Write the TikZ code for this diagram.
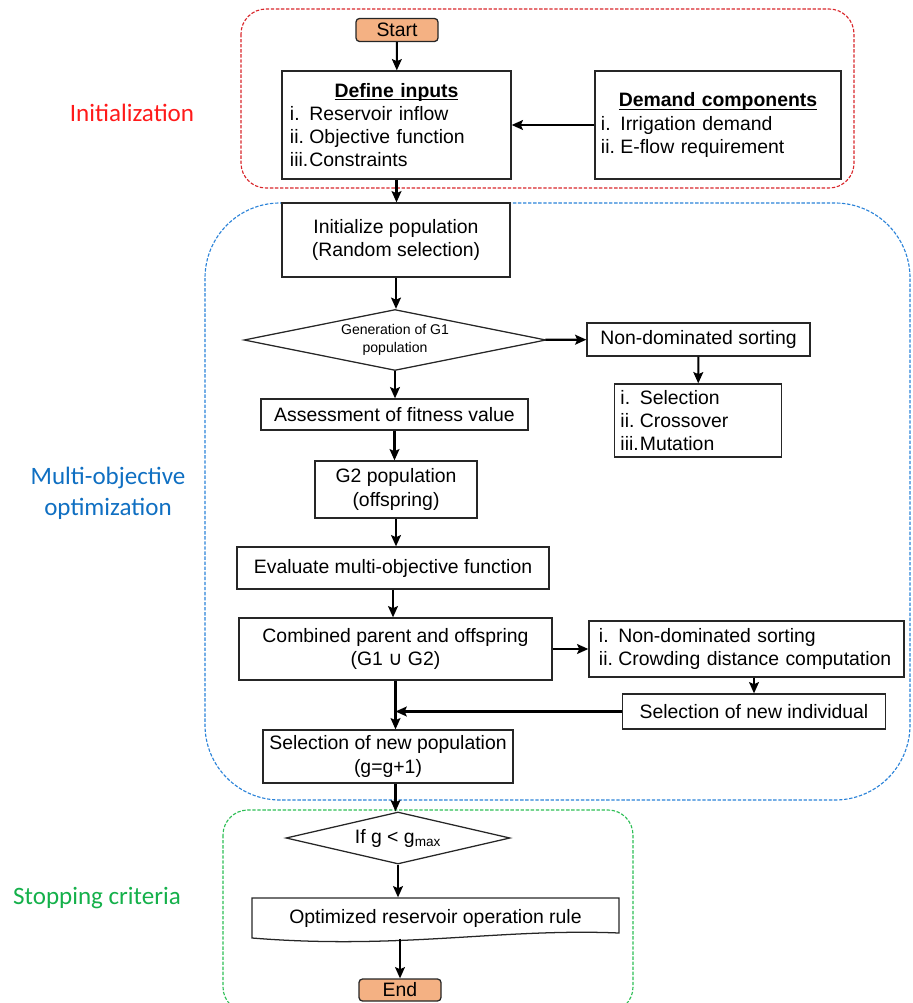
\documentclass[tikz,border=0pt]{standalone}
\usepackage{fontspec}
\setmainfont{Liberation Sans}
\newfontfamily\calib{Carlito}
\newfontfamily\symfnt{DejaVu Sans}
\usetikzlibrary{shapes.geometric,arrows.meta}
\newcommand\px{0.025cm}
\newcommand\itm[1]{\makebox[1.0em][l]{#1}}
\newcommand\hdr[1]{\setbox0\hbox{\textbf{#1}}\rlap{\rule[-2.2pt]{\wd0}{0.7pt}}\box0}
\definecolor{peach}{HTML}{F4B183}
\definecolor{initred}{HTML}{FF1A1A}
\definecolor{initline}{HTML}{D9262B}
\definecolor{optblue}{HTML}{0F6FC2}
\definecolor{optline}{HTML}{2A82D8}
\definecolor{stopgreen}{HTML}{14B04A}
\definecolor{stopline}{HTML}{2DBE55}
\tikzset{
  outline/.style={draw=black!85, line width=0.9pt},
  box/.style={outline, inner sep=0pt, font=\fontsize{13.8}{16.5}\selectfont, align=center},
  listbox/.style={box, align=left, inner xsep=6*\px},
  term/.style={box, fill=peach, rounded corners=2.5pt},
  dec/.style={box, diamond, aspect=5},
  arr/.style={line width=1.5pt, -{Stealth[length=8pt,width=7pt,inset=1.5pt]}},
  zone/.style={dash pattern=on 2.4pt off 1.2pt, line width=0.8pt},
  lab/.style={font=\calib\fontsize{17.8}{22}\selectfont, align=center}
}
\begin{document}
\begin{tikzpicture}[x=\px,y=-\px]
\useasboundingbox (0,0) rectangle (912,1003);
\clip (0,0) rectangle (912,1003);

% zones
\draw[zone, initline, rounded corners=0.625cm] (241,9) rectangle (854,188);
\draw[zone, optline, rounded corners=1.875cm] (205,203) rectangle (910,800);
\draw[zone, stopline, rounded corners=0.625cm] (223,810) rectangle (633,1012);

\node[lab, text=initred] (initlab) at (132,113) {Initialization};
\node[lab, text=optblue] (optlab) at (108,493) {Multi-objective\\optimization};
\node[lab, text=stopgreen] (stoplab) at (97,898) {Stopping criteria};

% initialization
\node[term, minimum width=82*\px, minimum height=23*\px] (start) at (397,30) {Start};
\node[listbox, text width=5.325cm, inner xsep=8*\px, minimum height=108*\px] (inputs) at (396.5,125)
  {\centering\hdr{Define inputs}\par\raggedright
   \itm{i.}Reservoir inflow\\\itm{ii.}Objective function\\\itm{iii.}Constraints};
\node[listbox, text width=5.85cm, minimum height=108*\px] (demand) at (718,125)
  {\centering\hdr{Demand components}\par\raggedright
   \itm{i.}Irrigation demand\\\itm{ii.}E-flow requirement};

% optimization
\node[box, minimum width=228*\px, minimum height=74*\px] (initpop) at (396,240) {Initialize population\\(Random selection)};
\node[dec, minimum width=302*\px, minimum height=61*\px, font=\fontsize{10}{12.8}\selectfont] (gen) at (395,340) {Generation of G1\\population};
\node[box, minimum width=223*\px, minimum height=33*\px] (sorting) at (698.5,339.5) {Non-dominated sorting};
\node[listbox, text width=3.875cm, minimum height=73*\px] (operators) at (698,420.5)
  {\itm{i.}Selection\\\itm{ii.}Crossover\\\itm{iii.}Mutation};
\node[box, minimum width=267*\px, minimum height=31*\px] (fitness) at (394.5,414.5) {Assessment of fitness value};
\node[box, minimum width=162*\px, minimum height=57*\px] (offspring) at (396,489.5) {G2 population\\(offspring)};
\node[box, minimum width=312*\px, minimum height=42*\px] (evaluate) at (393,568) {Evaluate multi-objective function};
\node[box, minimum width=313*\px, minimum height=62*\px] (combined) at (395.5,649) {Combined parent and offspring\\(G1 {\symfnt ∪} G2)};
\node[listbox, text width=7.375cm, inner xsep=10*\px, minimum height=56*\px] (crowding) at (746.5,649)
  {\itm{i.}Non-dominated sorting\\\itm{ii.}Crowding distance computation};
\node[box, minimum width=263*\px, minimum height=35*\px] (newind) at (754,711.5) {Selection of new individual};
\node[box, minimum width=250*\px, minimum height=53*\px] (newpop) at (388,756.5) {Selection of new population\\(g=g+1)};

% stopping
\node[dec, minimum width=224*\px, minimum height=52*\px] (check) at (398,838) {If g < g\textsubscript{max}};
\node[box, draw=none, minimum width=367*\px, minimum height=40*\px] (rule) at (435.5,918) {Optimized reservoir operation rule};
\draw[outline] (252,898) -- (619,898) -- (619,933) .. controls (500,928) and (400,950) .. (252,938) -- cycle;
\node[term, minimum width=82*\px, minimum height=22*\px] (finish) at (400,990) {End};

\draw[arr] (start) -- (inputs);
\draw[arr] (demand) -- (inputs);
\draw[arr] (inputs.south) -- (inputs.south |- initpop.north);
\draw[arr] (initpop.south) -- (initpop.south |- gen.north);
\draw[arr] (gen) -- (sorting);
\draw[arr] (sorting) -- (operators);
\draw[arr] (gen.south) -- (gen.south |- fitness.north);
\draw[arr] (fitness.south) -- (fitness.south |- offspring.north);
\draw[arr] (offspring.south) -- (offspring.south |- evaluate.north);
\draw[arr] (evaluate.south) -- (evaluate.south |- combined.north);
\draw[arr] (combined) -- (crowding);
\draw[arr] (crowding.south -| newind) -- (newind.north);
\coordinate (merge) at (combined.south |- newind.west);
\draw[arr] (newind.west) -- (merge);
\draw[arr] (combined.south) -- (combined.south |- newpop.north);
\draw[arr] (combined.south |- newpop.south) -- (combined.south |- check.north);
\draw[arr] (check.south) -- (check.south |- rule.north);
\coordinate (ruleout) at (finish.north |- rule.south);
\draw[arr] (ruleout) -- (finish.north);
\end{tikzpicture}
\end{document}
